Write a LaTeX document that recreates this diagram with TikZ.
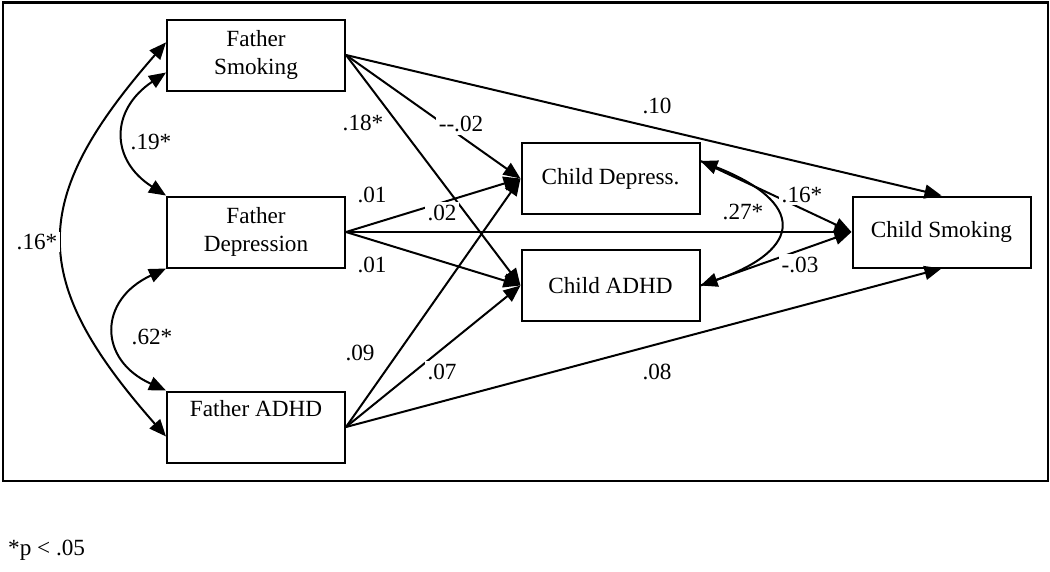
\documentclass[tikz,border=0pt]{standalone}
\usepackage{fontspec}
\setmainfont{Liberation Serif}
\usetikzlibrary{arrows.meta}

\begin{document}
\begin{tikzpicture}[
		font=\fontsize{13.2}{15.9}\selectfont,
		box/.style={draw, line width=0.04cm, minimum width=3.56cm, minimum height=1.42cm, align=center, inner sep=0pt},
		arr/.style={line width=0.04cm, -{Triangle[length=0.34cm, width=0.28cm]}},
		cov/.style={line width=0.04cm, {Triangle[length=0.34cm, width=0.28cm]}-{Triangle[length=0.34cm, width=0.28cm]}},
		lbl/.style={fill=white, inner sep=1.5pt}
	]
		\useasboundingbox (0, 0) rectangle (21, -11.42);
		\draw[line width=0.05cm] (0.06, -0.05) rectangle (20.96, -9.62);
		% fathers
		\node[box] (fs) at (5.12, -1.10) {Father\\Smoking};
		\node[box] (fd) at (5.12, -4.64) {Father\\Depression};
		\node[box] (fa) at (5.12, -8.54) {Father ADHD\\ \strut};
		% children
		\node[box] (cd) at (12.21, -3.57) {Child Depress.};
		\node[box] (ca) at (12.21, -5.71) {Child ADHD};
		\node[box] (cs) at (18.83, -4.64) {Child Smoking};
		\foreach \f in {fs, fd, fa}{
			\foreach \c in {cd, ca}{
				\draw[arr] (\f.east) -- (\c.west);
			}
		}
		\draw[arr] (fs.east) -- (cs.north);
		\draw[arr] (fd.east) -- (cs.west);
		\draw[arr] (fa.east) -- (cs.south);
		\draw[arr] (cd.11) -- (cs.west);
		\draw[arr] (ca.east) -- (cs.west);
		% covariances
		\draw[cov] (fs.191) .. controls (2.20, -2.20) and (2.20, -3.20) .. (fd.north west);
		\draw[cov] (fd.south west) .. controls (1.96, -6.00) and (1.96, -7.20) .. (fa.north west);
		\draw[cov] (fs.172) .. controls (0.56, -4.00) and (0.56, -5.60) .. (fa.186);
		\draw[cov] (cd.11) .. controls (16.10, -4.04) and (16.10, -4.98) .. (ca.east);
		% path values
		\foreach \x/\y/\t [count=\i] in {13.14/-2.12/.10, 9.22/-2.48/-{}-.02, 7.26/-2.46/.18*,
			7.44/-3.90/.01, 8.84/-4.26/.02, 7.44/-5.30/.01, 7.20/-7.06/.09, 8.84/-7.44/.07,
			13.14/-7.44/.08, 16.04/-3.90/.16*, 14.86/-4.24/.27*, 16.00/-5.30/-.03,
			3.02/-2.84/.19*, 3.04/-6.74/.62*, 0.74/-4.84/.16*}{
			\node[lbl] (v\i) at (\x, \y) {\t};
		}
		\node[anchor=west] (note) at (0.04, -11.0) {*p < .05};
\end{tikzpicture}
\end{document}
